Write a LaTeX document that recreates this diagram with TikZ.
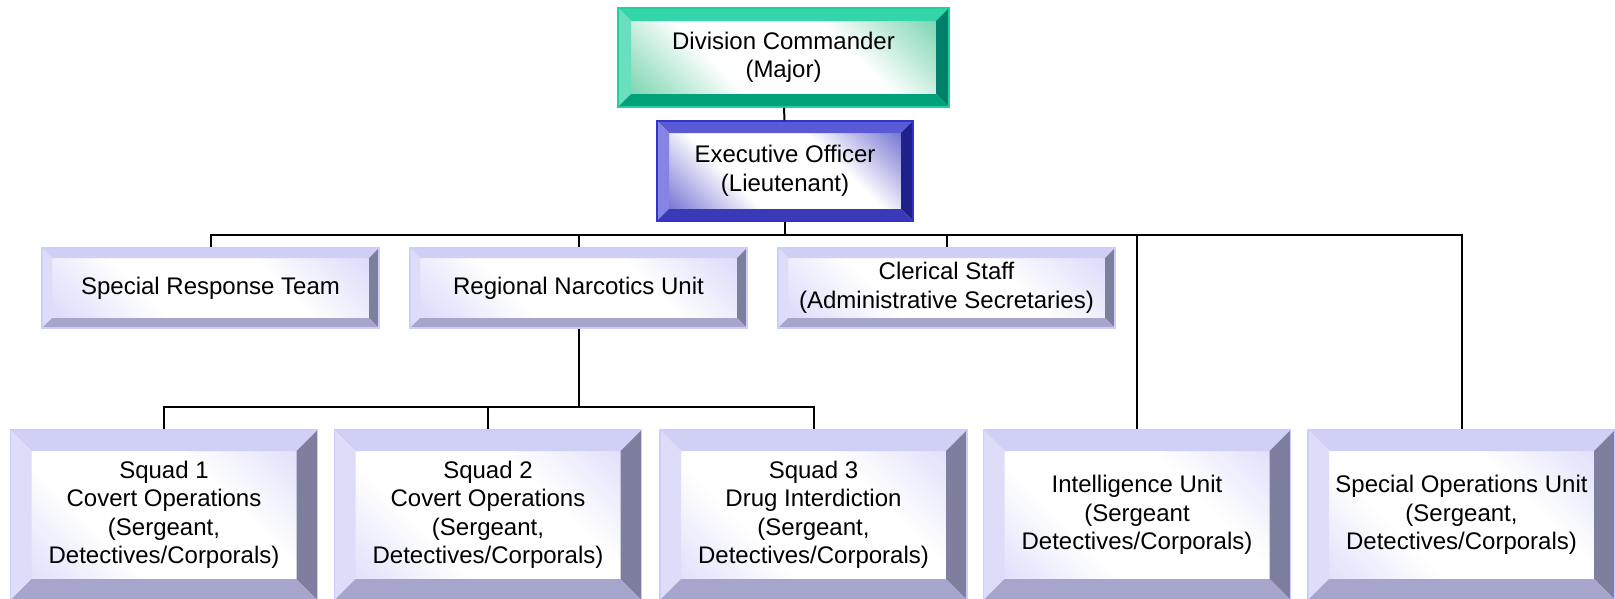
\documentclass[tikz,border=0pt]{standalone}
\usepackage{fontspec}
\setmainfont{Liberation Sans}
\definecolor{lavLine}{HTML}{CCCCFF}
\definecolor{lavTop}{HTML}{D0D0F6}
\definecolor{lavLeft}{HTML}{DDDDFA}
\definecolor{lavRight}{HTML}{7E7E9E}
\definecolor{lavBot}{HTML}{A6A6CC}
\definecolor{lavIn}{HTML}{D4D4FA}
\definecolor{grnLine}{HTML}{20D0A0}
\definecolor{grnTop}{HTML}{33D6A8}
\definecolor{grnLeft}{HTML}{6ADFBE}
\definecolor{grnRight}{HTML}{00806A}
\definecolor{grnBot}{HTML}{00A07A}
\definecolor{grnIn}{HTML}{5CCB9F}
\definecolor{bluLine}{HTML}{3333CC}
\definecolor{bluTop}{HTML}{5A5AD6}
\definecolor{bluLeft}{HTML}{8484E4}
\definecolor{bluRight}{HTML}{20208C}
\definecolor{bluBot}{HTML}{3A3AB8}
\definecolor{bluIn}{HTML}{5050C8}
\colorlet{boxIn}{lavIn}
\pgfdeclareverticalshading[boxIn]{glow}{100bp}{color(0bp)=(boxIn); color(14bp)=(boxIn); color(38bp)=(white); color(62bp)=(white); color(86bp)=(boxIn); color(100bp)=(boxIn)}
\begin{document}
\begin{tikzpicture}[x=1pt,y=-1pt,line width=2pt,font=\fontsize{24}{28.5}\selectfont,
	bevel width/.store in=\bevw, bevel width=10,
	bevelbox/.style={draw=#1Line,line width=1.5pt,inner sep=0pt,align=center,
		/utils/exec={\colorlet{boxIn}{#1In}},shading=glow,shading angle=-45,
		path picture={
			\coordinate (oa) at (path picture bounding box.north west);
			\coordinate (ob) at (path picture bounding box.north east);
			\coordinate (oc) at (path picture bounding box.south east);
			\coordinate (od) at (path picture bounding box.south west);
			\coordinate (ia) at ([shift={(\bevw pt,-\bevw pt)}]oa);
			\coordinate (ib) at ([shift={(-\bevw pt,-\bevw pt)}]ob);
			\coordinate (ic) at ([shift={(-\bevw pt,\bevw pt)}]oc);
			\coordinate (id) at ([shift={(\bevw pt,\bevw pt)}]od);
			\fill[#1Top] (oa)--(ob)--(ib)--(ia)--cycle;
			\fill[#1Left] (oa)--(ia)--(id)--(od)--cycle;
			\fill[#1Right] (ob)--(oc)--(ic)--(ib)--cycle;
			\fill[#1Bot] (od)--(id)--(ic)--(oc)--cycle;
		}},
	chief/.style={bevelbox=grn,minimum width=331pt,minimum height=99pt,bevel width=13},
	deputy/.style={bevelbox=blu,minimum width=256pt,minimum height=100pt,bevel width=12},
	staff/.style={bevelbox=lav,minimum width=337pt,minimum height=80pt,bevel width=10},
	unit/.style={bevelbox=lav,minimum width=307pt,minimum height=170pt,bevel width=21}]
	\useasboundingbox (0,0) rectangle (1615,598);
	% command
	\node[chief] (div) at (783.5,57.5) {Division Commander\\(Major)};
	\node[deputy] (xo) at (785,171) {Executive Officer\\(Lieutenant)};
	% staff row
	\node[staff] (srt) at (210.5,288) {Special Response Team};
	\node[staff] (rnu) at (578.5,288) {Regional Narcotics Unit};
	\node[staff] (cler) at (946.5,288) {Clerical Staff\\(Administrative Secretaries)};
	% units row
	\node[unit] (sq1) at (164,515) {Squad 1\\Covert Operations\\(Sergeant,\\Detectives/Corporals)};
	\node[unit] (sq2) at (488,515) {Squad 2\\Covert Operations\\(Sergeant,\\Detectives/Corporals)};
	\node[unit] (sq3) at (813.5,515) {Squad 3\\Drug Interdiction\\(Sergeant,\\Detectives/Corporals)};
	\node[unit] (intel) at (1137,515) {Intelligence Unit\\(Sergeant\\Detectives/Corporals)};
	\node[unit] (specops) at (1461.5,515) {Special Operations Unit\\(Sergeant,\\Detectives/Corporals)};
	% connectors
	\coordinate (hub) at (785,235);
	\coordinate (sqhub) at (578.5,407);
	\draw (div) -- (xo);
	\draw (xo) -- (hub);
	\foreach \n in {srt,rnu,cler,intel,specops}
		\draw (hub) -| (\n);
	\draw (rnu) -- (sqhub);
	\foreach \n in {sq1,sq2,sq3}
		\draw (sqhub) -| (\n);
\end{tikzpicture}
\end{document}
